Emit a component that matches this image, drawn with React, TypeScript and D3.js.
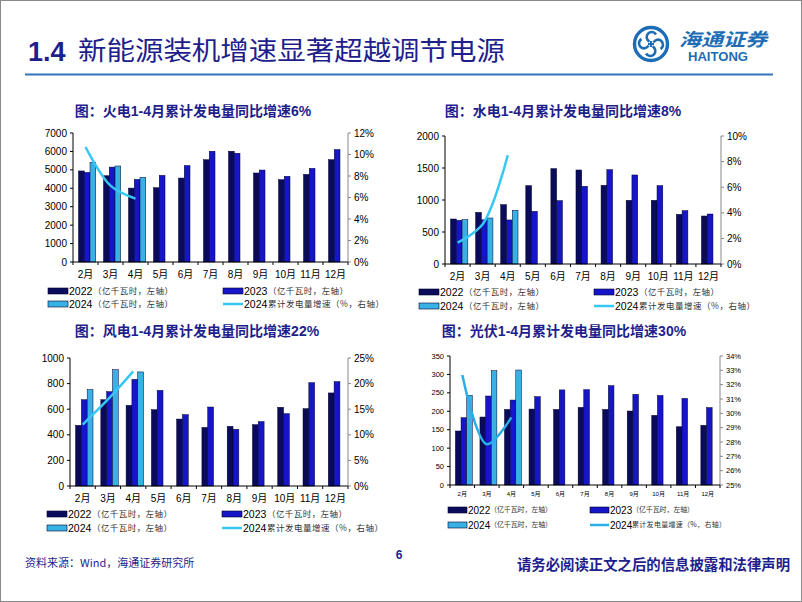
import React from 'react';
import * as d3 from 'd3';

// ---------- data ----------
const months = ['2月', '3月', '4月', '5月', '6月', '7月', '8月', '9月', '10月', '11月', '12月'];

const thermal2022 = [4940, 4680, 4010, 4030, 4555, 5550, 6010, 4830, 4465, 4755, 5550];
const thermal2023 = [4860, 5150, 4480, 4700, 5230, 6010, 5900, 4990, 4650, 5080, 6100];
const thermal2024 = [5410, 5210, 4590];
const thermalGrowth = [10.7, 7.1, 5.9];

const hydro2022 = [703, 807, 927, 1224, 1490, 1469, 1229, 995, 995, 776, 750];
const hydro2023 = [682, 690, 688, 823, 990, 1214, 1474, 1391, 1224, 833, 781];
const hydro2024 = [693, 719, 839];
const hydroGrowth = [1.67, 3.1, 8.5];

const wind2022 = [474, 674, 630, 596, 523, 458, 466, 479, 615, 604, 727];
const wind2023 = [674, 737, 833, 747, 557, 617, 443, 503, 565, 807, 815];
const wind2024 = [753, 909, 891];
const windGrowth = [12.0, 16.9, 22.4];

const solar2022 = [146.5, 184.4, 205, 206, 205, 210.5, 205, 200.7, 189, 158, 162];
const solar2023 = [182.6, 241.4, 230.5, 239.6, 258, 258.6, 269.4, 246, 243, 235, 210];
const solar2024 = [243.2, 310, 312];
const solarGrowth = [32.67, 27.84, 29.72];

const legendYears = ['2022', '2023', '2024', '2024'];
const legendUnitsLeft = '（亿千瓦时，左轴）';
const legendLineLabel = '累计发电量增速（%，右轴）';

const pageTitleNum = '1.4';
const pageTitle = '新能源装机增速显著超越调节电源';
const sourceText = '资料来源：Wind，海通证券研究所';
const pageNumber = '6';
const disclaimer = '请务必阅读正文之后的信息披露和法律声明';

// ---------- styles ----------
const NAVY = '#1e1e8c';
const C2022 = '#0b0b5c';
const C2023 = '#1616c8';
const C2024 = '#38b2e4';
const CLINE = '#35c8f4';
const BLUE_LOGO = '#1d6cb6';
const LATIN = "'Liberation Sans', Arial, sans-serif";
const CJK = "'Liberation Sans', 'Noto Sans CJK SC', sans-serif";
const CJKONLY = "'Noto Sans CJK SC', sans-serif";

type PanelProps = {
  title: string;
  titleX: number;
  titleY: number;
  left: number;
  right: number;
  top: number;
  bottom: number;
  yMax: number;
  yStep: number;
  rMin: number;
  rMax: number;
  rStep: number;
  s22: number[];
  s23: number[];
  s24: number[];
  growth: number[];
  legY1: number;
  legY2: number;
  legX1: number;
  legX2: number;
  small?: boolean;
  lineColor?: string;
};

function Panel(p: PanelProps) {
  const x = d3.scaleBand<string>().domain(months).range([p.left, p.right]).padding(0);
  const bw = x.bandwidth();
  const sub = d3
    .scaleBand<string>()
    .domain(['2022', '2023', '2024'])
    .range([bw * 0.22, bw * 0.91])
    .padding(0);
  const y = d3.scaleLinear().domain([0, p.yMax]).range([p.bottom, p.top]);
  const yr = d3.scaleLinear().domain([p.rMin, p.rMax]).range([p.bottom, p.top]);
  const yTicks = d3.range(0, p.yMax + p.yStep / 2, p.yStep);
  const rTicks = d3.range(p.rMin, p.rMax + p.rStep / 2, p.rStep);
  const line = d3
    .line<number>()
    .x((_, i) => (x(months[i]) as number) + bw / 2)
    .y((d) => yr(d))
    .curve(d3.curveCatmullRom.alpha(0.5));

  const tickFs = p.small ? 7.5 : 10;
  const xFs = p.small ? 6 : 10;
  const legNumFs = p.small ? 10 : 10.5;
  const legCjkFs = p.small ? 7 : 8.5;
  const swW = p.small ? 19 : 20;
  const numW = p.small ? 22 : 24;
  const unitW = p.small ? 62 : 80;
  const lineLabW = p.small ? 94 : 116;
  const series = [
    { key: '2022', vals: p.s22, color: C2022 },
    { key: '2023', vals: p.s23, color: C2023 },
    { key: '2024', vals: p.s24, color: C2024 },
  ];
  const lc = p.lineColor || CLINE;

  const legendItem = (lx: number, ly: number, kind: 'bar' | 'line', color: string, year: string, rest: string, restW: number) => (
    <g key={year + lx + ly}>
      {kind === 'bar' ? (
        <rect x={lx} y={ly - 3} width={swW} height={6} fill={color} stroke="#000033" strokeWidth={0.6} />
      ) : (
        <line x1={lx} x2={lx + swW} y1={ly} y2={ly} stroke={lc} strokeWidth={2.5} />
      )}
      <text x={lx + swW + 1} y={ly} dy="0.35em" fontFamily={LATIN} fontSize={legNumFs} fill="#000">
        {year}
      </text>
      <text
        x={lx + swW + 1 + numW}
        y={ly}
        dy="0.35em"
        fontFamily={CJKONLY}
        fontSize={legCjkFs}
        fill="#333"
        textLength={restW}
        lengthAdjust="spacing"
      >
        {rest}
      </text>
    </g>
  );

  return (
    <g>
      <text x={p.titleX} y={p.titleY} textAnchor="middle" fontFamily={CJK} fontWeight="bold" fontSize={14} fill={NAVY}>
        {p.title}
      </text>
      {/* bars */}
      {series.map((s) =>
        s.vals.map((v, i) => (
          <rect
            key={s.key + i}
            x={(x(months[i]) as number) + (sub(s.key) as number)}
            y={y(v)}
            width={sub.bandwidth()}
            height={p.bottom - y(v)}
            fill={s.color}
            stroke="#000033"
            strokeWidth={0.5}
          />
        ))
      )}
      {/* left axis */}
      <line x1={p.left} x2={p.left} y1={p.top} y2={p.bottom} stroke="#000" strokeWidth={1} />
      {yTicks.map((t) => (
        <g key={'yl' + t}>
          <line x1={p.left - 3} x2={p.left} y1={y(t)} y2={y(t)} stroke="#000" />
          <text x={p.left - 6} y={y(t)} dy="0.35em" textAnchor="end" fontFamily={LATIN} fontSize={tickFs} fill="#000">
            {t}
          </text>
        </g>
      ))}
      {/* right axis */}
      <line x1={p.right} x2={p.right} y1={p.top} y2={p.bottom} stroke="#888" strokeWidth={1} />
      {rTicks.map((t) => (
        <g key={'yr' + t}>
          <line x1={p.right} x2={p.right + 3} y1={yr(t)} y2={yr(t)} stroke="#888" />
          <text x={p.right + 6} y={yr(t)} dy="0.35em" textAnchor="start" fontFamily={LATIN} fontSize={tickFs} fill="#000">
            {t + '%'}
          </text>
        </g>
      ))}
      {/* x axis */}
      <line x1={p.left} x2={p.right} y1={p.bottom} y2={p.bottom} stroke="#000" strokeWidth={1} />
      {d3.range(months.length + 1).map((i) => (
        <line key={'xt' + i} x1={p.left + i * bw} x2={p.left + i * bw} y1={p.bottom} y2={p.bottom + 3} stroke="#000" />
      ))}
      {months.map((m) => (
        <text
          key={'xl' + m}
          x={(x(m) as number) + bw / 2}
          y={p.bottom + (p.small ? 9 : 12)}
          dy="0.35em"
          textAnchor="middle"
          fontFamily={CJK}
          fontSize={xFs}
          fill="#000"
        >
          {m}
        </text>
      ))}
      {/* growth line */}
      <path d={line(p.growth) || ''} fill="none" stroke={lc} strokeWidth={2.5} />
      {/* legend */}
      {legendItem(p.legX1, p.legY1, 'bar', C2022, legendYears[0], legendUnitsLeft, unitW)}
      {legendItem(p.legX2, p.legY1, 'bar', C2023, legendYears[1], legendUnitsLeft, unitW)}
      {legendItem(p.legX1, p.legY2, 'bar', C2024, legendYears[2], legendUnitsLeft, unitW)}
      {legendItem(p.legX2, p.legY2, 'line', lc, legendYears[3], legendLineLabel, lineLabW)}
    </g>
  );
}

function Logo() {
  const cx = 651;
  const cy = 44;
  return (
    <g>
      <circle cx={cx} cy={cy} r={16.5} fill="none" stroke={BLUE_LOGO} strokeWidth={3.4} />
      {[0, 90, 180, 270].map((a) => (
        <g key={a} transform={`translate(${cx},${cy}) rotate(${a})`}>
          <path d="M -1.5,-2.5 A 5 5 0 1 1 5,-9.5" fill="none" stroke={BLUE_LOGO} strokeWidth={2.6} />
        </g>
      ))}
      <line x1={cx - 3} x2={cx + 3} y1={cy} y2={cy} stroke={BLUE_LOGO} strokeWidth={2} />
      <line x1={cx} x2={cx} y1={cy - 3} y2={cy + 3} stroke={BLUE_LOGO} strokeWidth={2} />
      <text
        x={679}
        y={46}
        fontFamily={CJKONLY}
        fontSize={18}
        fontStyle="italic"
        fontWeight="bold"
        fill={BLUE_LOGO}
        textLength={88}
        lengthAdjust="spacingAndGlyphs"
      >
        海通证券
      </text>
      <text x={688} y={61} fontFamily={LATIN} fontWeight="bold" fontSize={12.5} fill={BLUE_LOGO} textLength={60} lengthAdjust="spacingAndGlyphs">
        HAITONG
      </text>
    </g>
  );
}

export default function App() {
  return (
    <svg
      width={802}
      height={602}
      viewBox="0 0 802 602"
      style={{ position: 'absolute', left: 0, top: 0, background: '#fff' }}
    >
      <rect x={0} y={0} width={802} height={602} fill="#fff" />
      {/* header */}
      <text x={28} y={61} fontFamily={LATIN} fontWeight="bold" fontSize={27} fill={NAVY}>
        {pageTitleNum}
      </text>
      <text
        x={78}
        y={60}
        fontFamily={CJKONLY}
        fontSize={26}
        fill={NAVY}
        textLength={427}
        lengthAdjust="spacingAndGlyphs"
      >
        {pageTitle}
      </text>
      <line x1={25} x2={773} y1={74.5} y2={74.5} stroke="#3273ba" strokeWidth={2} />
      <Logo />

      <Panel
        title="图：火电1-4月累计发电量同比增速6%"
        titleX={193}
        titleY={116}
        left={73}
        right={348}
        top={133}
        bottom={262}
        yMax={7000}
        yStep={1000}
        rMin={0}
        rMax={12}
        rStep={2}
        s22={thermal2022}
        s23={thermal2023}
        s24={thermal2024}
        growth={thermalGrowth}
        legY1={291}
        legY2={304}
        legX1={48}
        legX2={223}
      />
      <Panel
        title="图：水电1-4月累计发电量同比增速8%"
        titleX={563}
        titleY={116}
        left={445}
        right={721}
        top={136}
        bottom={264}
        yMax={2000}
        yStep={500}
        rMin={0}
        rMax={10}
        rStep={2}
        s22={hydro2022}
        s23={hydro2023}
        s24={hydro2024}
        growth={hydroGrowth}
        legY1={292}
        legY2={306}
        legX1={419}
        legX2={594}
      />
      <Panel
        title="图：风电1-4月累计发电量同比增速22%"
        titleX={197}
        titleY={336}
        left={70}
        right={348}
        top={358}
        bottom={486}
        yMax={1000}
        yStep={200}
        rMin={0}
        rMax={25}
        rStep={5}
        s22={wind2022}
        s23={wind2023}
        s24={wind2024}
        growth={windGrowth}
        legY1={514}
        legY2={528}
        legX1={47}
        legX2={222}
      />
      <Panel
        title="图：光伏1-4月累计发电量同比增速30%"
        titleX={564}
        titleY={336}
        left={450}
        right={720}
        top={356}
        bottom={485}
        yMax={350}
        yStep={50}
        rMin={25}
        rMax={34}
        rStep={1}
        s22={solar2022}
        s23={solar2023}
        s24={solar2024}
        growth={solarGrowth}
        legY1={510}
        legY2={525}
        legX1={448}
        legX2={590}
        small
        lineColor="#2aaee6"
      />

      {/* footer */}
      <text x={25} y={567} fontFamily={CJKONLY} fontSize={11} fill={NAVY}>
        {sourceText}
      </text>
      <text x={399} y={559} textAnchor="middle" fontFamily={LATIN} fontWeight="bold" fontSize={12} fill={NAVY}>
        {pageNumber}
      </text>
      <text
        x={517}
        y={570}
        fontFamily={CJKONLY}
        fontWeight="bold"
        fontSize={14.5}
        fill={NAVY}
        textLength={273}
        lengthAdjust="spacingAndGlyphs"
      >
        {disclaimer}
      </text>
      <rect x={0.5} y={0.5} width={801} height={601} fill="none" stroke="#8a8a8a" strokeWidth={1} />
    </svg>
  );
}
